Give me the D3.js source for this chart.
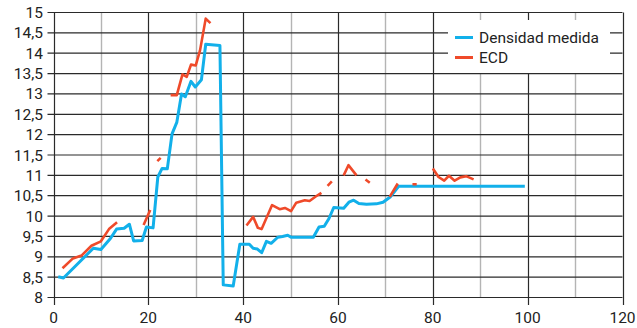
<!DOCTYPE html>
<html>
<head>
    <meta charset="utf-8">
    <title>Densidad medida / ECD</title>
    <style type="text/css">
        body { margin: 0; background: #fff; }
        svg text { font-family: Roboto, "Liberation Sans", sans-serif; fill: #222; }
    </style>
</head>
<body>
<div id="chart"></div>
<script src="https://d3js.org/d3.v7.min.js"></script>
<script type="text/javascript">
    // x ticks and y ticks
    var xTicks = [0, 20, 40, 60, 80, 100, 120];
    var xMinor = [10, 30, 50, 70, 90, 110];
    var yTicks = [8, 8.5, 9, 9.5, 10, 10.5, 11, 11.5, 12, 12.5, 13, 13.5, 14, 14.5, 15];

    // Densidad medida
    var blueX = [1.0, 2.1, 8.4, 10.0, 12.0, 13.3, 14.9, 16.0, 16.9, 18.7, 19.6, 21.0, 22.0, 22.9, 24.0, 25.0, 26.0, 27.0, 27.8, 29.0,
        29.9, 31.2, 32.1, 35.1, 35.8, 37.9, 39.3, 41.3, 42.1, 43.0, 43.9, 44.9, 45.9, 47.3, 48.3, 49.4, 50.1, 54.8, 56.0, 57.1,
        58.1, 59.1, 61.2, 62.3, 63.3, 64.4, 66.0, 68.1, 69.5, 71.0, 72.8, 99.4];
    var blueY = [8.51, 8.48, 9.21, 9.18, 9.45, 9.68, 9.70, 9.80, 9.39, 9.40, 9.73, 9.71, 10.96, 11.17, 11.16, 12.02, 12.3, 13.0, 12.93, 13.31,
        13.17, 13.35, 14.22, 14.19, 8.31, 8.28, 9.31, 9.31, 9.21, 9.19, 9.10, 9.38, 9.33, 9.48, 9.50, 9.53, 9.48, 9.48, 9.73, 9.75,
        9.94, 10.21, 10.19, 10.34, 10.39, 10.31, 10.29, 10.30, 10.34, 10.47, 10.73, 10.73];

    // ECD (null = sin dato)
    var redX = [1.9, 4.1, 5.9, 8.0, 10.0, 11.7, 13.4, 16, 19.0, 20.4, 21, 21.9, 22.6, 23.5, 24.7, 26.0, 27.2, 28.1, 29.0, 30.0,
        30.9, 32.1, 33.1, 37, 40.7, 42.1, 43.1, 43.9, 46.1, 47.7, 48.8, 50.1, 51.2, 53.0, 54.0, 55.3, 56.5, 57.2, 57.8, 58.7,
        60, 61.2, 62.2, 63.9, 65, 65.8, 66.7, 69, 70.9, 72.6, 74, 75.7, 76.6, 78, 80.0, 81.2, 82.4, 83.4, 84.6, 85.8,
        87.0, 88.6];
    var redY = [8.72, 8.96, 9.03, 9.27, 9.38, 9.68, 9.85, null, 9.78, 10.15, null, 11.35, 11.43, null, 12.97, 12.97, 13.48, 13.42, 13.72, 13.70,
        14.07, 14.85, 14.74, null, 9.77, 9.98, 9.71, 9.68, 10.27, 10.17, 10.2, 10.12, 10.33, 10.39, 10.37, 10.48, 10.57, null, 10.74, 10.85,
        null, 11.0, 11.25, 11.0, null, 10.90, 10.82, null, 10.47, 10.80, null, 10.78, 10.78, null, 11.17, 10.96, 10.87, 10.99, 10.87, 10.95,
        10.98, 10.90];

    var seriesNames = ["Densidad medida", "ECD"];
    var colors = ["#12b0ea", "#ef4a2a"];

    var width = 637, height = 328;
    var svg = d3.select('#chart').append('svg')
        .attr('width', width)
        .attr('height', height);

    var x = d3.scaleLinear().domain([0, 120]).range([53.5, 622.5]);
    var y = d3.scaleLinear().domain([8, 15]).range([297.5, 12.5]);

    var fmt = function (d) { return String(d).replace('.', ','); };

    // minor vertical grid (grey)
    svg.append('g').selectAll('line').data(xMinor).enter().append('line')
        .attr('x1', function (d) { return Math.round(x(d)) + 0.5; })
        .attr('x2', function (d) { return Math.round(x(d)) + 0.5; })
        .attr('y1', y(15)).attr('y2', y(8))
        .attr('stroke', '#b4b4b4').attr('stroke-width', 1.4);

    // horizontal grid + y ticks
    svg.append('g').selectAll('line').data(yTicks).enter().append('line')
        .attr('x1', 47.5).attr('x2', x(120))
        .attr('y1', function (d) { return y(d); })
        .attr('y2', function (d) { return y(d); })
        .attr('stroke', '#2a2a2a').attr('stroke-width', 1.2);

    // major vertical grid + x ticks
    svg.append('g').selectAll('line').data(xTicks).enter().append('line')
        .attr('x1', function (d) { return Math.round(x(d)) + 0.5; })
        .attr('x2', function (d) { return Math.round(x(d)) + 0.5; })
        .attr('y1', y(15)).attr('y2', 305)
        .attr('stroke', '#2a2a2a').attr('stroke-width', 1.2);

    // y labels
    svg.append('g').selectAll('text').data(yTicks).enter().append('text')
        .attr('x', 43)
        .attr('y', function (d) { return y(d) + 5.5; })
        .attr('text-anchor', 'end')
        .style('font-size', '15.5px')
        .text(fmt);

    // x labels
    svg.append('g').selectAll('text').data(xTicks).enter().append('text')
        .attr('x', function (d) { return x(d); })
        .attr('y', 323)
        .attr('text-anchor', 'middle')
        .style('font-size', '15.5px')
        .text(fmt);

    // lines
    var blue = blueX.map(function (d, i) { return [d, blueY[i]]; });
    var red = redX.map(function (d, i) { return [d, redY[i]]; });

    var line = d3.line()
        .defined(function (d) { return d[1] !== null; })
        .x(function (d) { return x(d[0]); })
        .y(function (d) { return y(d[1]); });

    svg.append('path').datum(blue)
        .attr('d', line)
        .attr('fill', 'none')
        .attr('stroke', colors[0])
        .attr('stroke-width', 3)
        .attr('stroke-linejoin', 'round');

    svg.append('path').datum(red)
        .attr('d', line)
        .attr('fill', 'none')
        .attr('stroke', colors[1])
        .attr('stroke-width', 2.6)
        .attr('stroke-linejoin', 'round');

    // legend
    var legend = svg.append('g');
    legend.append('rect')
        .attr('x', 448).attr('y', 20)
        .attr('width', 162).attr('height', 53)
        .attr('fill', '#fff');
    seriesNames.forEach(function (name, i) {
        var ly = 37.5 + i * 20;
        legend.append('line')
            .attr('x1', 455).attr('x2', 473)
            .attr('y1', ly).attr('y2', ly)
            .attr('stroke', colors[i]).attr('stroke-width', 3);
        legend.append('text')
            .attr('x', 479).attr('y', ly + 5.5)
            .style('font-size', '15.5px')
            .text(name);
    });
</script>
</body>
</html>
